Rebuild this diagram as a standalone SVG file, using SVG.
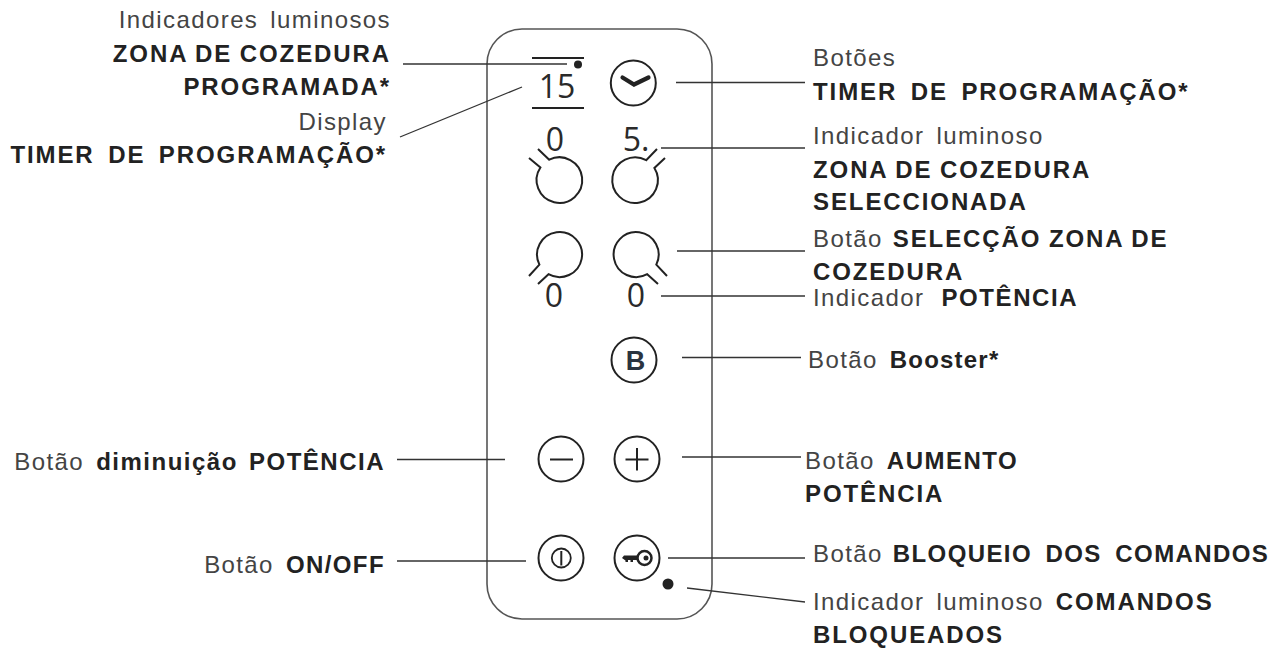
<svg xmlns="http://www.w3.org/2000/svg" width="1273" height="651" viewBox="0 0 1273 651">
<style>
text{font-family:"Liberation Sans",Arial,sans-serif;font-size:24px;fill:#444;letter-spacing:1.4px;word-spacing:4px}
.b{font-weight:700;fill:#222;letter-spacing:1.9px;word-spacing:5px}
.z{word-spacing:-1px}
.m{letter-spacing:1.5px;word-spacing:3px}
.k{letter-spacing:1.4px;word-spacing:5.500px}
.e{text-anchor:end}
.n{font-family:"Open Sans","Noto Sans",sans-serif;font-size:32px;fill:#2a2a2a;letter-spacing:0;word-spacing:0}
.c{stroke:#333;stroke-width:1.3;fill:none}
.s{stroke:#222;stroke-width:2;fill:none}
.t{stroke:#222;stroke-width:2;fill:#fff}
.d{fill:#222}
</style>
<rect width="1273" height="651" fill="#fff"/>
<g id="panel"><rect x="487" y="29" width="225" height="590" rx="35" fill="none" stroke="#555" stroke-width="1.6"/></g>
<g id="connectors">
<path class="c" d="M403 64H567"/>
<path class="c" d="M400 137L522 87"/>
<path class="c" d="M676 82.500H805"/>
<path class="c" d="M661 148H805"/>
<path class="c" d="M677 251H805"/>
<path class="c" d="M661 296H805"/>
<path class="c" d="M682 357.500H801"/>
<path class="c" d="M682 457H801"/>
<path class="c" d="M397 459.500H505"/>
<path class="c" d="M668 558H805"/>
<path class="c" d="M397 561H526"/>
<path class="c" d="M687 588L805 602"/>
</g>
<g id="display-timer">
<path class="s" d="M532 58H584M532 108H584" stroke-width="1.500"/>
<circle class="d" cx="578" cy="64.500" r="4"/>
<text class="n" x="557" y="98" text-anchor="middle">15</text>
</g>
<g id="btn-timer">
<circle class="t" cx="633.300" cy="83" r="22.500"/>
<path d="M622.500 77.500L634 84.500L648.500 77.500" fill="none" stroke="#222" stroke-width="4.200" stroke-linecap="round"/>
</g>
<g id="zone-tl">
<text class="n" x="555" y="151" text-anchor="middle">0</text>
<path class="s" d="M538 149L549.200 159.700A22.800 22.800 0 1 1 540.400 167.500L529 158"/>
</g>
<g id="zone-tr">
<text class="n" x="636" y="151" text-anchor="middle">5.</text>
<path class="s" d="M657 149L646.200 160.200A22.800 22.800 0 1 0 654.400 168L665 158"/>
</g>
<g id="zone-bl">
<path class="s" d="M529 276L539.400 264.600A22.500 22.500 0 1 1 548.500 274.200L538 284"/>
<text class="n" x="554" y="307" text-anchor="middle">0</text>
</g>
<g id="zone-br">
<path class="s" d="M667 276L656.300 264.600A22.500 22.500 0 1 0 647.200 274.200L658 284"/>
<text class="n" x="636" y="307" text-anchor="middle">0</text>
</g>
<g id="btn-booster">
<circle class="t" cx="634" cy="360" r="22.500"/>
<text x="635.500" y="370" text-anchor="middle" style="font-size:27px;font-weight:700;fill:#2a3440;letter-spacing:0">B</text>
</g>
<g id="btn-minus">
<circle class="t" cx="561" cy="459" r="22.500"/>
<path class="s" d="M550 459.500H573"/>
</g>
<g id="btn-plus">
<circle class="t" cx="637" cy="459" r="22.500"/>
<path class="s" d="M625.500 459.500H648.500M637 448V470.500"/>
</g>
<g id="btn-onoff">
<circle class="t" cx="561" cy="558" r="22.500"/>
<circle cx="561.300" cy="558" r="9.500" fill="none" stroke="#222" stroke-width="1.800"/>
<path class="s" d="M561.300 551V565.500"/>
</g>
<g id="btn-lock">
<circle class="t" cx="637" cy="558" r="22.500"/>
<circle cx="644.500" cy="558" r="7" fill="none" stroke="#222" stroke-width="2.500"/>
<circle class="d" cx="646" cy="558" r="2.500"/>
<path d="M622 558L624 555.500H638V560H633V562H630.500V560H628V562H625.500V560.500Z" fill="#222"/>
</g>
<g id="dot-locked"><circle class="d" cx="668" cy="584" r="5.500"/></g>
<g id="labels-left">
<text class="e" x="391" y="28">Indicadores luminosos</text>
<text class="b z e" x="391" y="62">ZONA DE COZEDURA</text>
<text class="b e" x="391" y="95">PROGRAMADA*</text>
<text class="e" x="387" y="130">Display</text>
<text class="b e" x="387" y="163">TIMER DE PROGRAMAÇÃO*</text>
<text class="e" x="385" y="470">Botão <tspan class="b m">diminuição POTÊNCIA</tspan></text>
<text class="e" x="385" y="573">Botão <tspan class="b" style="letter-spacing:1.400px">ON/OFF</tspan></text>
</g>
<g id="labels-right">
<text x="813" y="66">Botões</text>
<text class="b" x="813" y="100">TIMER DE PROGRAMAÇÃO*</text>
<text x="813" y="144">Indicador luminoso</text>
<text class="b z" x="813" y="178">ZONA DE COZEDURA</text>
<text class="b" x="813" y="210">SELECCIONADA</text>
<text x="813" y="247" style="word-spacing:2px">Botão <tspan class="b z">SELECÇÃO ZONA DE</tspan></text>
<text class="b" x="813" y="280">COZEDURA</text>
<text x="813" y="306" style="word-spacing:9px">Indicador <tspan class="b" style="letter-spacing:1.600px">POTÊNCIA</tspan></text>
<text x="808" y="368">Botão <tspan class="b" style="letter-spacing:1.200px">Booster*</tspan></text>
<text x="805" y="469">Botão <tspan class="b m">AUMENTO</tspan></text>
<text class="b" x="805" y="502">POTÊNCIA</text>
<text x="813" y="562" style="word-spacing:2px">Botão <tspan class="b k">BLOQUEIO DOS COMANDOS</tspan></text>
<text x="813" y="610">Indicador luminoso <tspan class="b">COMANDOS</tspan></text>
<text class="b" x="813" y="643">BLOQUEADOS</text>
</g>
</svg>
